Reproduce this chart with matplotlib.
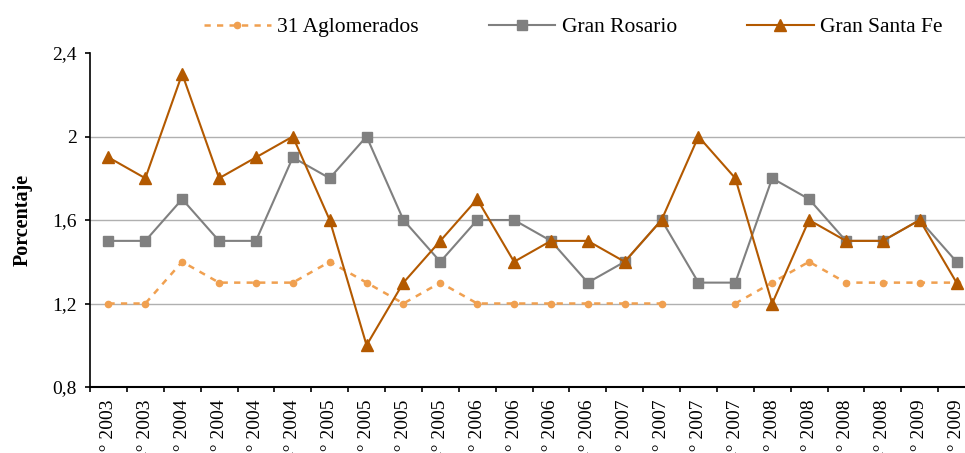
import numpy as np
import matplotlib.pyplot as plt

periodos = ['3° 2003', '4° 2003', '1° 2004', '2° 2004', '3° 2004', '4° 2004',
            '1° 2005', '2° 2005', '3° 2005', '4° 2005', '1° 2006', '2° 2006',
            '3° 2006', '4° 2006', '1° 2007', '2° 2007', '3° 2007', '4° 2007',
            '1° 2008', '2° 2008', '3° 2008', '4° 2008', '1° 2009', '2° 2009']
aglomerados = [1.2, 1.2, 1.4, 1.3, 1.3, 1.3, 1.4, 1.3, 1.2, 1.3, 1.2, 1.2,
               1.2, 1.2, 1.2, 1.2, np.nan, 1.2, 1.3, 1.4, 1.3, 1.3, 1.3, 1.3]
rosario = [1.5, 1.5, 1.7, 1.5, 1.5, 1.9, 1.8, 2.0, 1.6, 1.4, 1.6, 1.6,
           1.5, 1.3, 1.4, 1.6, 1.3, 1.3, 1.8, 1.7, 1.5, 1.5, 1.6, 1.4]
santa_fe = [1.9, 1.8, 2.3, 1.8, 1.9, 2.0, 1.6, 1.0, 1.3, 1.5, 1.7, 1.4,
            1.5, 1.5, 1.4, 1.6, 2.0, 1.8, 1.2, 1.6, 1.5, 1.5, 1.6, 1.3]
yticks = [0.8, 1.2, 1.6, 2.0, 2.4]
ytick_labels = ['0,8', '1,2', '1,6', '2', '2,4']

plt.rcParams['font.family'] = ['Liberation Serif', 'DejaVu Serif']

fig = plt.figure(figsize=(9.65, 4.53), dpi=100, facecolor='white')
ax = fig.add_axes([90/965, 66/453, 885/965, 334/453])

x = np.arange(len(periodos))
ax.plot(x, aglomerados, color='#F0A050', lw=1.8, ls=(0, (2.5, 2.5)), marker='o',
        ms=4.5, mec='#F0A050', mfc='#F0A050', label='31 Aglomerados', zorder=3)
ax.plot(x, rosario, color='#808080', lw=1.5, marker='s', ms=7.5,
        mfc='#808080', mec='#808080', label='Gran Rosario', zorder=4)
ax.plot(x, santa_fe, color='#B35900', lw=1.5, marker='^', ms=8,
        mfc='#B35900', mec='#B35900', label='Gran Santa Fe', zorder=5)

ax.set_xlim(-0.5, len(periodos) - 0.5)
ax.set_ylim(0.8, 2.4)
ax.set_yticks(yticks)
ax.set_yticklabels(ytick_labels, fontsize=14)
for yv in [1.2, 1.6, 2.0]:
    ax.axhline(yv, color='#B0B0B0', lw=1, zorder=1)

# etiquetas rotadas, quedan cortadas abajo como en el original
ax.set_xticks(x)
ax.set_xticklabels(periodos, rotation=90, fontsize=14, va='top')
ax.set_xticks(np.arange(len(periodos) + 1) - 0.5, minor=True)
ax.tick_params(axis='x', which='major', length=0, pad=9)
ax.tick_params(axis='x', which='minor', length=3.6, width=1.2, direction='out')
ax.tick_params(axis='y', length=3.6, width=1.2, direction='out', pad=6)

for s in ['top', 'right']:
    ax.spines[s].set_visible(False)
ax.spines['left'].set_linewidth(1.2)
ax.spines['bottom'].set_linewidth(1.5)

ax.set_ylabel('Porcentaje', fontsize=14.5, fontweight='bold', labelpad=14)

fig.legend(loc='center', bbox_to_anchor=(0.594, 1 - 27/453), ncol=3, frameon=False,
           fontsize=15.5, handlelength=3.1, columnspacing=3.25, handletextpad=0.3)

fig.savefig('out.png', dpi=100, facecolor='white')
